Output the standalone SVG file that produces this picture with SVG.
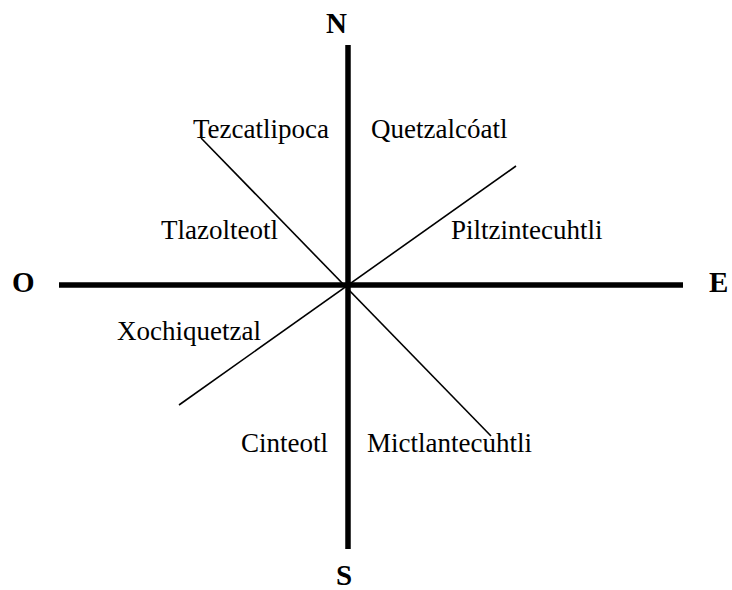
<svg xmlns="http://www.w3.org/2000/svg" width="732" height="590" viewBox="0 0 732 590">
<style>
.axis{stroke:#000;stroke-width:5.5;fill:none}
.diag{stroke:#000;stroke-width:1.6;fill:none}
.dir{font-family:"Liberation Serif","Times New Roman",serif;font-weight:bold;font-size:29px;fill:#000}
.god{font-family:"Liberation Serif","Times New Roman",serif;font-size:27px;fill:#000}
</style>
<rect width="732" height="590" fill="#fff"/>
<g id="connectors">
<line class="axis" x1="348" y1="45" x2="348" y2="549"/>
<line class="axis" x1="59" y1="285" x2="683" y2="285"/>
<line class="diag" x1="201" y1="138" x2="491" y2="436"/>
<line class="diag" x1="516" y1="166" x2="179" y2="405"/>
</g>
<g id="N"><text class="dir" x="326" y="33">N</text></g>
<g id="S"><text class="dir" x="336" y="585">S</text></g>
<g id="O"><text class="dir" x="12" y="292">O</text></g>
<g id="E"><text class="dir" x="709" y="292">E</text></g>
<g id="tezcatlipoca"><text class="god" x="193" y="138">Tezcatlipoca</text></g>
<g id="quetzalcoatl"><text class="god" x="371" y="138">Quetzalcóatl</text></g>
<g id="tlazolteotl"><text class="god" x="161" y="239">Tlazolteotl</text></g>
<g id="piltzintecuhtli"><text class="god" x="451" y="239">Piltzintecuhtli</text></g>
<g id="xochiquetzal"><text class="god" x="117" y="340">Xochiquetzal</text></g>
<g id="cinteotl"><text class="god" x="241" y="452">Cinteotl</text></g>
<g id="mictlantecuhtli"><text class="god" x="367" y="452">Mictlantecuhtli</text></g>
</svg>
